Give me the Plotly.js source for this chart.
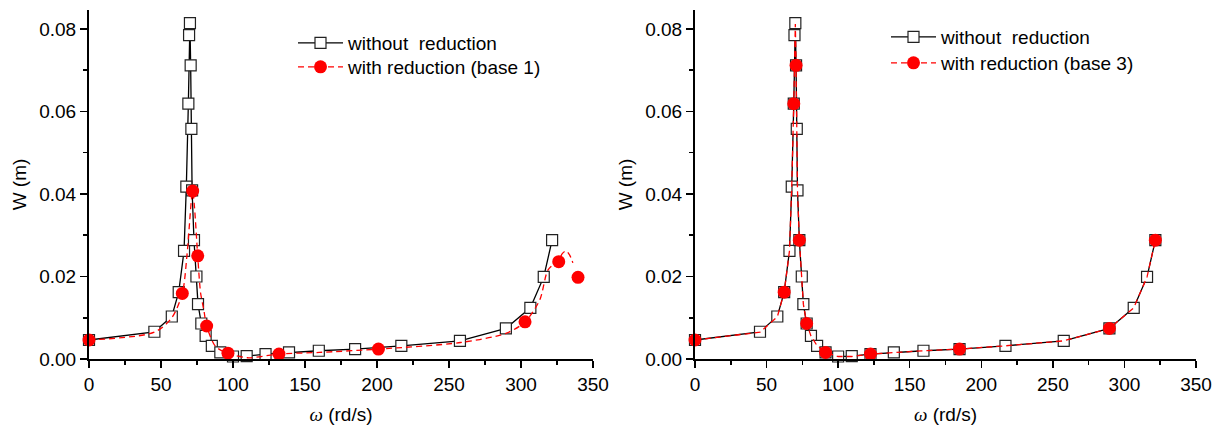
<!DOCTYPE html>
<html>
<head>
<meta charset="utf-8">
<script src="https://cdn.plot.ly/plotly-3.0.1.min.js"></script>
<style>
html,body{margin:0;padding:0;background:#fff;}
#chart{width:1221px;height:425px;}
</style>
</head>
<body>
<div id="chart"></div>
<script>
// ---- Data ----
// "without reduction" (black squares, same in both panels)
const omegaWithout = [0, 45.4, 57.5, 62.3, 66.0, 67.6, 69.0, 69.5, 70.1, 70.6, 71.1, 71.6, 72.9, 74.6, 75.7, 78.0, 81.0, 85.3, 91.2, 100.0, 109.5, 122.6, 138.9, 159.6, 184.8, 216.9, 257.6, 289.5, 306.5, 315.8, 321.6];
const wWithout = [0.0046, 0.0066, 0.0103, 0.0162, 0.0262, 0.0418, 0.0619, 0.0785, 0.0814, 0.0712, 0.0558, 0.0409, 0.0288, 0.0200, 0.0133, 0.0086, 0.0056, 0.0032, 0.0016, 0.0006, 0.0007, 0.0012, 0.0016, 0.0020, 0.0024, 0.0032, 0.0044, 0.0074, 0.0124, 0.0199, 0.0288];

// "with reduction (base 1)": red dots and the red dashed curve (left panel)
const omegaBase1 = [0, 64.8, 72.0, 75.5, 81.7, 96.5, 131.9, 201.0, 302.8, 326.2, 339.6];
const wBase1 = [0.0046, 0.0159, 0.0407, 0.0250, 0.0080, 0.0014, 0.0012, 0.0024, 0.0090, 0.0236, 0.0198];
const omegaCurve1 = [0, 45.4, 57.5, 64.8, 68.0, 71.1, 72.0, 73.2, 75.5, 77.5, 79.7, 81.7, 88.0, 96.5, 110.0, 131.9, 160.0, 201.0, 258.0, 289.5, 302.8, 313.0, 318.8, 326.2, 328.8, 331.3, 333.8, 336.0];
const wCurve1 = [0.0046, 0.0065, 0.0100, 0.0159, 0.0250, 0.0385, 0.0407, 0.0370, 0.0250, 0.0160, 0.0120, 0.0080, 0.0030, 0.0014, 0.0003, 0.0012, 0.0016, 0.0024, 0.0040, 0.0062, 0.0090, 0.0143, 0.0216, 0.0240, 0.0256, 0.0262, 0.0252, 0.0233];

// "with reduction (base 3)": red dots and the red dashed curve (right panel)
const omegaBase3 = [0, 62.3, 69.0, 70.6, 72.9, 78.0, 91.2, 122.6, 184.8, 289.5, 321.6];
const wBase3 = [0.0046, 0.0162, 0.0619, 0.0712, 0.0288, 0.0086, 0.0016, 0.0012, 0.0024, 0.0074, 0.0288];
const omegaCurve3 = [0, 45.4, 57.5, 62.3, 66.0, 67.6, 69.0, 69.5, 70.1, 70.6, 71.1, 71.6, 72.9, 74.6, 75.7, 78.0, 81.0, 85.3, 91.2, 100.0, 109.5, 122.6, 138.9, 159.6, 184.8, 216.9, 257.6, 289.5, 306.5, 315.8, 321.6];
const wCurve3 = [0.0046, 0.0065, 0.0102, 0.0162, 0.0262, 0.0418, 0.0619, 0.0785, 0.0812, 0.0712, 0.0558, 0.0409, 0.0288, 0.0200, 0.0133, 0.0086, 0.0056, 0.0032, 0.0016, 0.0006, 0.0006, 0.0012, 0.0016, 0.0020, 0.0024, 0.0032, 0.0044, 0.0074, 0.0124, 0.0199, 0.0288];

const nameWithout = 'without\u00a0\u00a0reduction';
const nameBase1 = 'with reduction (base 1)';
const nameBase3 = 'with reduction (base 3)';
const xTitle = '<span style="font-family:\'Liberation Serif\',serif;font-style:italic">ω</span> (rd/s)';
const yTitle = 'W (m)';

const W = 1221, H = 425;
const FONT = 'Liberation Sans, Arial, sans-serif';
const RED = '#ff0000';

function blackTrace(xa, ya, leg) {
  return {
    x: omegaWithout, y: wWithout, xaxis: xa, yaxis: ya, legend: leg,
    name: nameWithout, type: 'scatter', mode: 'lines+markers', cliponaxis: false,
    line: {color: '#000', width: 1.3},
    marker: {symbol: 'square', size: 11, color: '#fff', line: {color: '#222', width: 1.2}}
  };
}
function redCurve(xs, ys, nm, xa, ya, leg, shape) {
  return {
    x: xs, y: ys, xaxis: xa, yaxis: ya, legend: leg,
    name: nm, type: 'scatter', mode: 'lines', cliponaxis: false,
    line: {color: RED, width: 1.3, dash: '6px,4px', shape: shape, smoothing: 0.8}
  };
}
function redDots(xs, ys, xa, ya, leg) {
  return {
    x: xs, y: ys, xaxis: xa, yaxis: ya, legend: leg,
    name: '\u00a0', type: 'scatter', mode: 'markers', cliponaxis: false,
    marker: {symbol: 'circle', size: 13, color: RED, line: {width: 0}}
  };
}

const data = [
  blackTrace('x', 'y', 'legend'),
  redCurve(omegaCurve1, wCurve1, nameBase1, 'x', 'y', 'legend3', 'spline'),
  redDots(omegaBase1, wBase1, 'x', 'y', 'legend5'),
  blackTrace('x2', 'y2', 'legend2'),
  redCurve(omegaCurve3, wCurve3, nameBase3, 'x2', 'y2', 'legend4', 'linear'),
  redDots(omegaBase3, wBase3, 'x2', 'y2', 'legend6')
];

function xAxis(dom, anchor) {
  return {
    domain: dom, anchor: anchor, range: [0, 350], dtick: 50, tick0: 0,
    showline: true, linecolor: '#000', linewidth: 2, mirror: false,
    ticks: 'outside', ticklen: 7, tickwidth: 1.5, tickcolor: '#000',
    minor: {ticks: 'outside', dtick: 25, ticklen: 4, tickwidth: 1.5, tickcolor: '#000'},
    showgrid: false, zeroline: false,
    tickfont: {family: FONT, size: 19, color: '#000'},
    title: {text: xTitle, font: {family: FONT, size: 19, color: '#000'}, standoff: 14}
  };
}
function yAxis(dom, anchor) {
  return {
    domain: dom, anchor: anchor, range: [0, 0.0846], dtick: 0.02, tick0: 0, tickformat: '.2f',
    showline: true, linecolor: '#000', linewidth: 2, mirror: false,
    ticks: 'outside', ticklen: 7, tickwidth: 1.5, tickcolor: '#000',
    minor: {ticks: 'outside', dtick: 0.01, ticklen: 4, tickwidth: 1.5, tickcolor: '#000'},
    showgrid: false, zeroline: false,
    tickfont: {family: FONT, size: 19, color: '#000'},
    title: {text: yTitle, font: {family: FONT, size: 19, color: '#000'}, standoff: 8}
  };
}

function leg(xpx, ypx) {
  return {
    x: xpx / W, y: 1 - ypx / H, xanchor: 'left', yanchor: 'middle',
    bgcolor: 'rgba(0,0,0,0)', borderwidth: 0, itemwidth: 45,
    font: {family: FONT, size: 19, color: '#000'}
  };
}

const yDom = [(H - 359) / H, (H - 10) / H];
const layout = {
  width: W, height: H,
  margin: {l: 0, r: 0, t: 0, b: 0},
  paper_bgcolor: '#fff', plot_bgcolor: '#fff',
  font: {family: FONT, size: 19, color: '#000'},
  xaxis: xAxis([89 / W, 593 / W], 'y'),
  yaxis: yAxis(yDom, 'x'),
  xaxis2: xAxis([695 / W, 1196 / W], 'y2'),
  yaxis2: yAxis(yDom, 'x2'),
  legend: leg(293, 43),
  legend3: leg(293, 67),
  legend5: leg(293, 67),
  legend2: leg(886, 37),
  legend4: leg(886, 63),
  legend6: leg(886, 63),
  showlegend: true
};

Plotly.newPlot('chart', data, layout, {staticPlot: true, displayModeBar: false});
</script>
</body>
</html>
